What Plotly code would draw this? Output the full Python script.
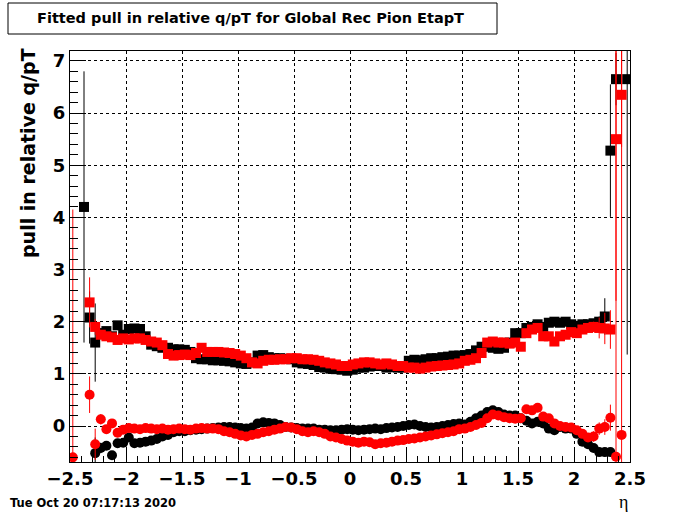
import plotly.graph_objects as go

# ---- binning (100 bins in eta from -2.5 to 2.5) ----
NBINS = 100
ETA_LO, ETA_HI = -2.5, 2.5
bin_w = (ETA_HI - ETA_LO) / NBINS
eta = [round(ETA_LO + bin_w * (i + 0.5), 4) for i in range(NBINS)]

N = None
# upper black squares
black_sq = [
    N, N, 4.2, 2.08, 1.6, 1.78, 1.82, 1.72, 1.93, 1.75,
    1.86, 1.87, 1.86, 1.72, 1.56, 1.53, 1.5, 1.5, 1.47, 1.47,
    1.46, 1.42, 1.3, 1.28, 1.28, 1.26, 1.26, 1.25, 1.24, 1.22,
    1.2, 1.19, 1.22, 1.35, 1.36, 1.32, 1.3, 1.3, 1.29, 1.28,
    1.22, 1.2, 1.19, 1.17, 1.13, 1.12, 1.1, 1.09, 1.08, 1.06,
    1.08, 1.12, 1.12, 1.14, 1.15, 1.15, 1.12, 1.13, 1.12, 1.12,
    1.25, 1.27, 1.26, 1.28, 1.3, 1.3, 1.32, 1.33, 1.35, 1.35,
    1.36, 1.38, 1.45, 1.52, 1.52, 1.5, 1.48, 1.5, 1.6, 1.78,
    1.78, 1.88, 1.9, 1.95, 1.9, 1.98, 2.0, 1.98, 2.0, 1.95,
    1.92, 1.95, 1.95, 1.97, 2.0, 2.1, 5.28, 6.65, N, 6.65,
]
black_sq_err = [
    0, 0, 2.6, 0.5, 0.75, 0.1, 0.06, 0.05, 0.05, 0.05,
    0.05, 0.04, 0.04, 0.04, 0.04, 0.04, 0.04, 0.04, 0.04, 0.04,
    0.04, 0.04, 0.04, 0.04, 0.04, 0.04, 0.04, 0.04, 0.04, 0.04,
    0.04, 0.04, 0.04, 0.04, 0.04, 0.04, 0.04, 0.04, 0.04, 0.04,
    0.04, 0.04, 0.04, 0.04, 0.04, 0.04, 0.04, 0.04, 0.04, 0.04,
    0.04, 0.04, 0.04, 0.04, 0.04, 0.04, 0.04, 0.04, 0.04, 0.04,
    0.04, 0.04, 0.04, 0.04, 0.04, 0.04, 0.04, 0.04, 0.04, 0.04,
    0.04, 0.04, 0.04, 0.04, 0.04, 0.04, 0.04, 0.04, 0.04, 0.04,
    0.04, 0.04, 0.04, 0.04, 0.04, 0.04, 0.04, 0.05, 0.05, 0.05,
    0.06, 0.06, 0.07, 0.08, 0.1, 0.35, 1.27, 0.5, 0, 5.28,
]
# upper red squares
red_sq = [
    N, N, N, 2.37, 1.9, 1.75, 1.72, 1.7, 1.65, 1.68,
    1.66, 1.68, 1.68, 1.65, 1.62, 1.6, 1.55, 1.38, 1.35, 1.36,
    1.37, 1.36, 1.4, 1.5, 1.42, 1.42, 1.42, 1.41, 1.4, 1.38,
    1.35, 1.3, 1.22, 1.2, 1.25, 1.27, 1.27, 1.28, 1.28, 1.3,
    1.3, 1.28, 1.28, 1.27, 1.25, 1.22, 1.2, 1.18, 1.15, 1.15,
    1.18, 1.2, 1.22, 1.22, 1.2, 1.18, 1.2, 1.18, 1.15, 1.15,
    1.12, 1.12, 1.1, 1.12, 1.14, 1.15, 1.16, 1.17, 1.18, 1.2,
    1.25, 1.27, 1.3, 1.4, 1.6, 1.62, 1.6, 1.6, 1.58, 1.6,
    1.52, 1.78, 1.85, 1.88, 1.72, 1.72, 1.62, 1.72, 1.75, 1.8,
    1.78, 1.85, 1.88, 1.9, 1.88, 1.87, 1.85, 5.5, 6.35, N,
]
red_sq_err = [
    0, 0, 0, 0.48, 0.15, 0.08, 0.05, 0.05, 0.05, 0.05,
    0.05, 0.04, 0.04, 0.04, 0.04, 0.04, 0.04, 0.04, 0.04, 0.04,
    0.04, 0.04, 0.04, 0.04, 0.04, 0.04, 0.04, 0.04, 0.04, 0.04,
    0.04, 0.04, 0.04, 0.04, 0.04, 0.04, 0.04, 0.04, 0.04, 0.04,
    0.04, 0.04, 0.04, 0.04, 0.04, 0.04, 0.04, 0.04, 0.04, 0.04,
    0.04, 0.04, 0.04, 0.04, 0.04, 0.04, 0.04, 0.04, 0.04, 0.04,
    0.04, 0.04, 0.04, 0.04, 0.04, 0.04, 0.04, 0.04, 0.04, 0.04,
    0.04, 0.04, 0.04, 0.04, 0.04, 0.04, 0.04, 0.04, 0.04, 0.04,
    0.04, 0.04, 0.04, 0.04, 0.04, 0.04, 0.04, 0.05, 0.05, 0.05,
    0.06, 0.06, 0.08, 0.1, 0.2, 0.3, 0.37, 3.1, 1.0, 0,
]
# lower black circles
black_ci = [
    N, N, N, N, -0.52, -0.42, -0.38, -0.56, -0.33, -0.32,
    -0.22, -0.33, -0.32, -0.3, -0.28, -0.25, -0.2, -0.17, -0.12, -0.1,
    -0.1, -0.08, -0.07, -0.06, -0.05, -0.04, -0.03, -0.02, -0.02, -0.03,
    -0.04, -0.05, -0.03, 0.05, 0.07, 0.06, 0.05, 0.02, -0.02, -0.03,
    -0.04, -0.05, -0.05, -0.05, -0.07, -0.07, -0.08, -0.08, -0.07, -0.06,
    -0.07, -0.08, -0.07, -0.06, -0.05, -0.06, -0.04, -0.03, -0.02, 0.0,
    0.02, 0.03, 0.0, -0.02, -0.03, -0.02, 0.0, 0.02, 0.04, 0.05,
    0.03, 0.08, 0.15, 0.2, 0.27, 0.3, 0.27, 0.22, 0.2, 0.2,
    0.15, 0.1, 0.05, 0.08, 0.05, -0.05, -0.08, -0.02, -0.05, -0.05,
    -0.15, -0.3, -0.35, -0.42, -0.5, -0.5, -0.5, N, N, N,
]
black_ci_err = [
    0, 0, 0, 0, 0.3, 0.1, 0.06, 0.06, 0.05, 0.05,
    0.05, 0.04, 0.04, 0.04, 0.04, 0.04, 0.04, 0.04, 0.04, 0.04,
    0.04, 0.04, 0.04, 0.04, 0.04, 0.04, 0.04, 0.04, 0.04, 0.04,
    0.04, 0.04, 0.04, 0.04, 0.04, 0.04, 0.04, 0.04, 0.04, 0.04,
    0.04, 0.04, 0.04, 0.04, 0.04, 0.04, 0.04, 0.04, 0.04, 0.04,
    0.04, 0.04, 0.04, 0.04, 0.04, 0.04, 0.04, 0.04, 0.04, 0.04,
    0.04, 0.04, 0.04, 0.04, 0.04, 0.04, 0.04, 0.04, 0.04, 0.04,
    0.04, 0.04, 0.04, 0.04, 0.04, 0.04, 0.04, 0.04, 0.04, 0.04,
    0.04, 0.04, 0.04, 0.04, 0.04, 0.04, 0.04, 0.05, 0.05, 0.05,
    0.05, 0.06, 0.06, 0.07, 0.07, 0.08, 0.08, 0, 0, 0,
]
# lower red circles
red_ci = [
    -0.6, N, N, 0.6, -0.35, 0.13, -0.06, 0.05, -0.13, -0.07,
    -0.04, -0.05, -0.06, -0.04, -0.05, -0.06, -0.05, -0.07, -0.06, -0.05,
    -0.06, -0.07, -0.05, -0.04, -0.05, -0.05, -0.06, -0.1, -0.12, -0.15,
    -0.18, -0.2, -0.17, -0.15, -0.12, -0.1, -0.07, -0.05, -0.02, -0.03,
    -0.06, -0.1, -0.12, -0.1, -0.12, -0.15, -0.2, -0.22, -0.25, -0.28,
    -0.3, -0.32, -0.3, -0.31, -0.35, -0.33, -0.32, -0.3, -0.28, -0.27,
    -0.25, -0.24, -0.22, -0.2, -0.18, -0.16, -0.14, -0.12, -0.1, -0.06,
    -0.05, -0.02, 0.02, 0.06, 0.15, 0.22, 0.2, 0.17, 0.15, 0.14,
    0.15, 0.32, 0.3, 0.35, 0.18, 0.15, 0.05, 0.0, -0.02, -0.03,
    -0.08, -0.15, -0.22, -0.2, -0.05, -0.02, 0.16, -0.59, -0.17, N,
]
red_ci_err = [
    4.75, 0, 0, 0.35, 0.3, 0.1, 0.08, 0.08, 0.06, 0.05,
    0.05, 0.04, 0.04, 0.04, 0.04, 0.04, 0.04, 0.04, 0.04, 0.04,
    0.04, 0.04, 0.04, 0.04, 0.04, 0.04, 0.04, 0.04, 0.04, 0.04,
    0.04, 0.04, 0.04, 0.04, 0.04, 0.04, 0.04, 0.04, 0.04, 0.04,
    0.04, 0.04, 0.04, 0.04, 0.04, 0.04, 0.04, 0.04, 0.04, 0.04,
    0.04, 0.04, 0.04, 0.04, 0.04, 0.04, 0.04, 0.04, 0.04, 0.04,
    0.04, 0.04, 0.04, 0.04, 0.04, 0.04, 0.04, 0.04, 0.04, 0.04,
    0.04, 0.04, 0.04, 0.04, 0.04, 0.04, 0.04, 0.04, 0.04, 0.04,
    0.04, 0.04, 0.04, 0.04, 0.04, 0.04, 0.05, 0.05, 0.05, 0.05,
    0.06, 0.07, 0.08, 0.1, 0.12, 0.15, 0.25, 12.0, 12.0, 0,
]

TITLE = "Fitted pull in relative q/pT for Global Rec Pion EtapT"
YTITLE = "pull in relative q/pT"
XTITLE = "η"
DATE = "Tue Oct 20 07:17:13 2020"

FONT = "DejaVu Sans"
W, H = 700, 514
L, R, T, B = 70, 70, 51, 52
PW, PH = W - L - R, H - T - B


def px(x):
    return (x - L) / PW


def py(y):
    return (H - B - y) / PH


fig = go.Figure()


def add_series(vals, errs, color, symbol, size):
    xs = [e for e, v in zip(eta, vals) if v is not None]
    ys = [v for v in vals if v is not None]
    es = [er for v, er in zip(vals, errs) if v is not None]
    fig.add_trace(go.Scatter(
        x=xs, y=ys, mode="markers",
        marker=dict(symbol=symbol, size=size, color=color, line=dict(width=0)),
        error_y=dict(type="data", array=es, visible=True, color=color,
                     thickness=1, width=0),
        hoverinfo="x+y",
    ))


add_series(black_sq, black_sq_err, "black", "square", 10)
add_series(black_ci, black_ci_err, "black", "circle", 10)
add_series(red_sq, red_sq_err, "red", "square", 10)
add_series(red_ci, red_ci_err, "red", "circle", 10)

tickfont = dict(family=FONT, size=18, color="black", weight="bold")

fig.update_layout(
    width=W, height=H,
    margin=dict(l=L, r=R, t=T, b=B),
    paper_bgcolor="white", plot_bgcolor="white",
    showlegend=False,
    xaxis=dict(
        range=[ETA_LO, ETA_HI], tick0=-2.5, dtick=0.5,
        ticks="inside", ticklen=12, tickcolor="black", tickwidth=1,
        showline=True, linecolor="black", linewidth=1, mirror=True,
        showgrid=True, gridcolor="black", gridwidth=1, griddash="dot",
        zeroline=False, tickfont=tickfont,
        minor=dict(dtick=0.1, ticks="inside", ticklen=6, tickcolor="black",
                   showgrid=False),
    ),
    yaxis=dict(
        range=[-0.69, 7.19], tick0=0, dtick=1,
        ticks="inside", ticklen=16, tickcolor="black", tickwidth=1,
        showline=True, linecolor="black", linewidth=1, mirror=True,
        showgrid=True, gridcolor="black", gridwidth=1, griddash="dot",
        zeroline=False, tickfont=tickfont,
        minor=dict(dtick=0.2, ticks="inside", ticklen=8, tickcolor="black",
                   showgrid=False),
    ),
    shapes=[dict(type="rect", xref="paper", yref="paper",
                 x0=px(8), x1=px(497), y0=py(34), y1=py(3),
                 line=dict(color="black", width=1), fillcolor="white")],
    annotations=[
        dict(text=TITLE, xref="paper", yref="paper", x=px(250), y=py(18),
             showarrow=False, xanchor="center", yanchor="middle",
             font=dict(family=FONT, size=14.5, color="black", weight="bold")),
        dict(text=YTITLE, xref="paper", yref="paper", x=px(28), y=py(153),
             showarrow=False, xanchor="center", yanchor="middle", textangle=-90,
             font=dict(family=FONT, size=19, color="black", weight="bold")),
        dict(text=XTITLE, xref="paper", yref="paper", x=px(623), y=py(502),
             showarrow=False, xanchor="center", yanchor="middle",
             font=dict(family="Liberation Serif", size=18, color="black")),
        dict(text=DATE, xref="paper", yref="paper", x=px(8), y=py(503),
             showarrow=False, xanchor="left", yanchor="middle",
             font=dict(family=FONT, size=11.5, color="black", weight="bold")),
    ],
)

fig.write_html(
    "out.html",
    config={"displayModeBar": False},
    post_script="document.body.style.margin='0';document.body.style.overflow='hidden';",
)
